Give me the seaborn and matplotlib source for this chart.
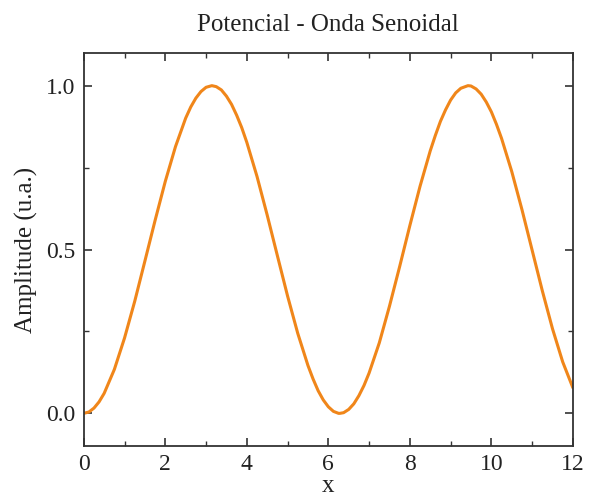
import matplotlib
matplotlib.use("Agg")
import matplotlib.pyplot as plt
from matplotlib.ticker import MultipleLocator, FormatStrFormatter
import seaborn as sns
import pandas as pd

# Sampled potential curve: position x and amplitude (u.a.),
# sampled more densely around the maxima and minimum
x_vals = [0.000, 0.125, 0.250, 0.375, 0.500, 0.750, 1.000, 1.250, 1.500, 1.750,
          2.000, 2.250, 2.500, 2.625, 2.750, 2.875, 3.000, 3.142, 3.250, 3.375,
          3.500, 3.625, 3.750, 3.875, 4.000, 4.250, 4.500, 4.750, 5.000, 5.250,
          5.500, 5.625, 5.750, 5.875, 6.000, 6.125, 6.250, 6.283, 6.375, 6.500,
          6.625, 6.750, 6.875, 7.000, 7.250, 7.500, 7.750, 8.000, 8.250, 8.500,
          8.625, 8.750, 8.875, 9.000, 9.125, 9.250, 9.425, 9.500, 9.625, 9.750,
          9.875, 10.000, 10.125, 10.250, 10.500, 10.750, 11.000, 11.250, 11.500, 11.750,
          12.000]
amplitude = [0.000, 0.004, 0.016, 0.035, 0.061, 0.134, 0.230, 0.342, 0.465, 0.589,
             0.708, 0.814, 0.901, 0.935, 0.962, 0.982, 0.995, 1.000, 0.997, 0.987,
             0.968, 0.943, 0.910, 0.872, 0.827, 0.723, 0.605, 0.481, 0.358, 0.244,
             0.146, 0.105, 0.069, 0.041, 0.020, 0.006, 0.000, 0.000, 0.002, 0.012,
             0.029, 0.054, 0.085, 0.123, 0.215, 0.327, 0.448, 0.573, 0.693, 0.801,
             0.848, 0.891, 0.926, 0.956, 0.978, 0.992, 1.000, 0.999, 0.990, 0.974,
             0.950, 0.920, 0.882, 0.839, 0.738, 0.622, 0.498, 0.374, 0.258, 0.157,
             0.078]

title = "Potencial - Onda Senoidal"
x_label = "x"
y_label = "Amplitude (u.a.)"

df = pd.DataFrame({"x": x_vals, "y": amplitude})

sns.set_theme(style="ticks")
plt.rcParams["font.family"] = ["Liberation Serif", "DejaVu Serif"]

fig, ax = plt.subplots(figsize=(5.9, 4.99), dpi=100)
fig.subplots_adjust(left=0.142, right=0.971, top=0.894, bottom=0.106)

sns.lineplot(data=df, x="x", y="y", ax=ax, color="#F0861A", linewidth=2.2,
             sort=False, estimator=None)

ax.set_xlim(0, 12)
ax.set_ylim(-0.1, 1.1)
ax.xaxis.set_major_locator(MultipleLocator(2))
ax.xaxis.set_minor_locator(MultipleLocator(1))
ax.yaxis.set_major_locator(MultipleLocator(0.5))
ax.yaxis.set_minor_locator(MultipleLocator(0.25))
ax.yaxis.set_major_formatter(FormatStrFormatter("%.1f"))

ax.tick_params(which="both", direction="in", top=True, right=True,
               colors="#333333", labelcolor="#222222")
ax.tick_params(which="major", length=6, width=1.2, labelsize=17, pad=6)
ax.tick_params(which="minor", length=3.5, width=1.0)
for sp in ax.spines.values():
    sp.set_linewidth(1.3)
    sp.set_color("#333333")

ax.set_title(title, fontsize=18, pad=16, color="#222222")
ax.set_xlabel(x_label, fontsize=18, labelpad=0, color="#222222")
ax.set_ylabel(y_label, fontsize=18, labelpad=6, color="#222222")

fig.savefig("out.png", dpi=100, facecolor="white")
